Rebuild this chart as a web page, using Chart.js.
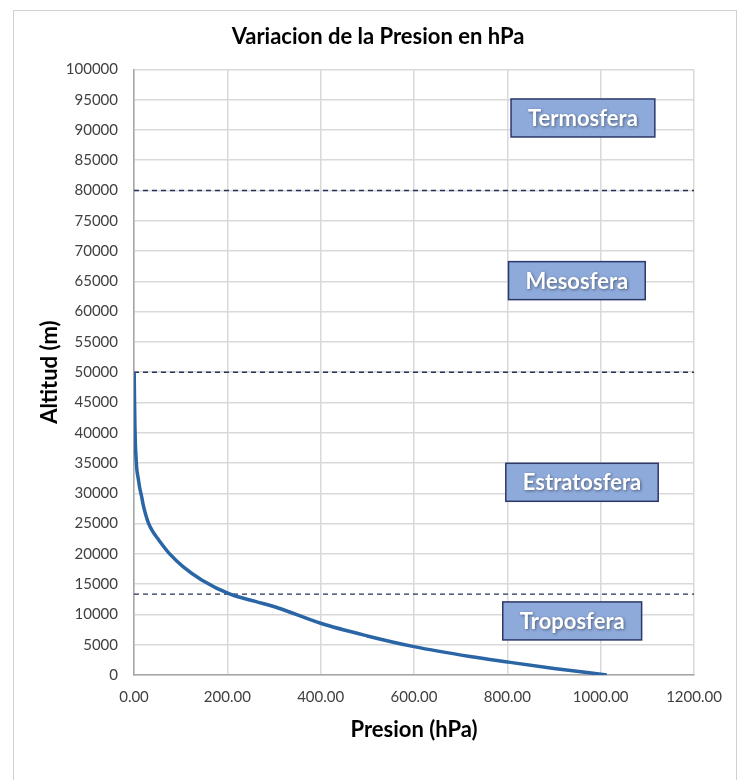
<!DOCTYPE html>
<html>
<head>
<meta charset="utf-8">
<script src="https://cdn.jsdelivr.net/npm/chart.js@4/dist/chart.umd.min.js"></script>
<style>
    html, body { margin: 0; padding: 0; background: #fff; }
    .frame { position: absolute; left: 13px; top: 10px; width: 724px; height: 790px; border: 1px solid #d0d0d0; box-sizing: border-box; }
    canvas { position: absolute; left: 0; top: 0; }
</style>
</head>
<body>
<div class="frame"></div>
<canvas id="chart" width="739" height="780"></canvas>
<script>
// presion (hPa) vs altitud (m)
const presion = [1013, 900, 800, 720, 600, 500, 400, 309, 260, 206, 145, 105, 77, 53, 40, 31, 25, 20, 16, 12, 9, 6, 4.3, 3, 2, 1, 0.4];
const altitud = [0, 1080, 2150, 3050, 4680, 6450, 8540, 11070, 12150, 13340, 15700, 17900, 19950, 22300, 23700, 25070, 26500, 28000, 29600, 31000, 32500, 34000, 36000, 38000, 41000, 46000, 50000];

// limites entre capas
const limites = [80000, 50000, 13350];

// etiquetas de capas y su punto de anclaje (hPa, m)
const capas = ['Termosfera', 'Mesosfera', 'Estratosfera', 'Troposfera'];
const capasPresion = [962, 949, 960, 939];
const capasAltitud = [91980, 65120, 31820, 8930];

const xTicks = [0, 200, 400, 600, 800, 1000, 1200];

const curva = {
    label: 'Presion',
    data: presion.map((p, i) => ({ x: p, y: altitud[i] })),
    borderColor: '#2a65a6',
    borderWidth: 3.5,
    pointRadius: 0,
    cubicInterpolationMode: 'monotone',
    fill: false
};

const lineas = limites.map(h => ({
    label: 'limite ' + h,
    data: [{ x: 0, y: h }, { x: 1200, y: h }],
    borderColor: '#27305a',
    borderWidth: 1.4,
    borderDash: [5, 4],
    pointRadius: 0,
    fill: false
}));

const etiquetas = {
    id: 'etiquetas',
    afterDatasetsDraw(chart) {
        const ctx = chart.ctx;
        const xs = chart.scales.x, ys = chart.scales.y;
        ctx.save();
        ctx.font = 'bold 22px Lato';
        capas.forEach((name, i) => {
            const cx = xs.getPixelForValue(capasPresion[i]);
            const cy = ys.getPixelForValue(capasAltitud[i]);
            const w = ctx.measureText(name).width + 34;
            const h = 38;
            ctx.fillStyle = '#8eaadb';
            ctx.fillRect(cx - w / 2, cy - h / 2, w, h);
            ctx.strokeStyle = '#2c3868';
            ctx.lineWidth = 1.5;
            ctx.strokeRect(cx - w / 2, cy - h / 2, w, h);
            ctx.fillStyle = '#fff';
            ctx.textAlign = 'center';
            ctx.textBaseline = 'middle';
            ctx.shadowColor = 'rgba(0,0,0,0.45)';
            ctx.shadowBlur = 3;
            ctx.shadowOffsetX = 1;
            ctx.shadowOffsetY = 1;
            ctx.fillText(name, cx, cy + 1);
            ctx.shadowColor = 'transparent';
        });
        ctx.restore();
    }
};

new Chart(document.getElementById('chart').getContext('2d'), {
    type: 'scatter',
    data: { datasets: [curva, ...lineas] },
    plugins: [etiquetas],
    options: {
        responsive: false,
        animation: false,
        showLine: true,
        layout: { padding: { left: 33, right: 16, top: 0, bottom: 33 } },
        plugins: {
            legend: { display: false },
            tooltip: { enabled: false },
            title: {
                display: true,
                text: 'Variacion de la Presion en hPa',
                color: '#000',
                font: { family: 'Lato', size: 22, weight: 'bold' },
                padding: { top: 24, bottom: 19 }
            }
        },
        scales: {
            x: {
                type: 'linear',
                min: 0,
                max: 1200,
                afterBuildTicks: s => { s.ticks = xTicks.map(v => ({ value: v })); },
                afterFit: s => { s.height = 72; s.paddingRight = 45; },
                ticks: {
                    color: '#404040',
                    font: { family: 'Lato', size: 15 },
                    padding: 13,
                    callback: v => Number(v).toFixed(2)
                },
                grid: { color: '#d9d9d9', lineWidth: 1.5, drawTicks: false },
                border: { color: '#a6a6a6', width: 1.5 },
                title: {
                    display: true,
                    text: 'Presion (hPa)',
                    color: '#000',
                    font: { family: 'Lato', size: 22, weight: 'bold' },
                    padding: { top: 6 }
                }
            },
            y: {
                type: 'linear',
                min: 0,
                max: 100000,
                afterFit: s => { s.width = 101; },
                ticks: {
                    stepSize: 5000,
                    color: '#404040',
                    font: { family: 'Lato', size: 15 },
                    padding: 16,
                    callback: v => String(v)
                },
                grid: { color: '#d9d9d9', lineWidth: 1.5, drawTicks: false },
                border: { color: '#a6a6a6', width: 1.5 },
                title: {
                    display: true,
                    text: 'Altitud (m)',
                    color: '#000',
                    font: { family: 'Lato', size: 22, weight: 'bold' },
                    padding: { bottom: 0 }
                }
            }
        }
    }
});
</script>
</body>
</html>
